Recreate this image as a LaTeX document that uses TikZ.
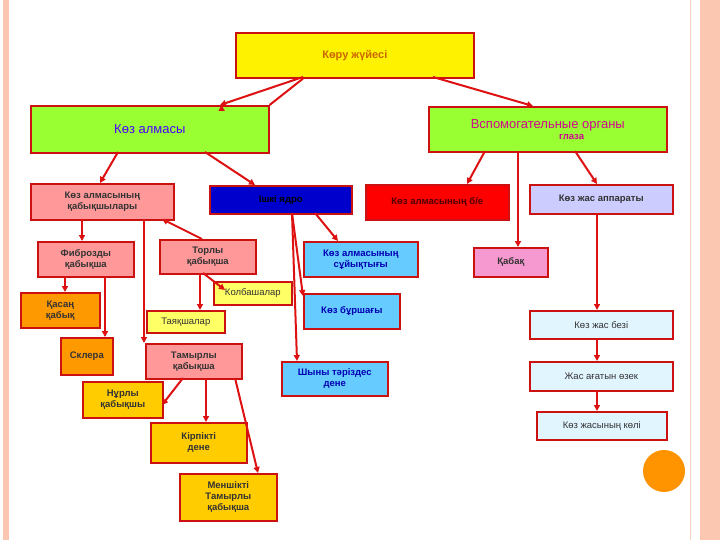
\documentclass[tikz,border=0pt]{standalone}
\usepackage{fontspec}
\setmainfont{Liberation Sans}
\usetikzlibrary{arrows.meta}
\definecolor{ar}{HTML}{DD1111}
\definecolor{bd}{HTML}{CC1111}
\definecolor{gr}{HTML}{99FF33}
\definecolor{pk}{HTML}{FF9999}
\definecolor{lb}{HTML}{66CCFF}
\definecolor{yl}{HTML}{FFFF66}
\definecolor{or}{HTML}{FF9900}
\definecolor{gd}{HTML}{FFCC00}
\definecolor{pe}{HTML}{FCC7B0}
\begin{document}
\begin{tikzpicture}[x=1pt,y=-1pt,
 bx/.style={draw=bd,line width=1.6pt,inner sep=0pt,align=center,font=\bfseries\fontsize{9.5}{11}\selectfont},
 ar/.style={draw=ar,line width=2pt,-{Triangle[length=6pt,width=6pt]}}]
\useasboundingbox (0,0) rectangle (720,540);
\fill[pe] (3,0) rectangle (9,540);
\fill[pe] (700,0) rectangle (720,540);
\draw[pe!80!white,line width=1pt] (690,0) -- (690,540);
\fill[orange!85!yellow] (664,471) circle (21);
\newcommand\bxn[6]{\node[bx,fill=#5,text=#6,minimum width=#3-#1,minimum height=#4-#2,anchor=north west] (n) at (#1,#2) {};}
\def\B#1#2#3#4#5#6#7#8{\node[bx,fill=#6,text=#7,minimum width={(#4-#2)*1pt},minimum height={(#5-#3)*1pt},anchor=north west] (#1) at (#2,#3) {#8};}
\B{top}{235}{32}{473}{77}{yellow}{orange!80!black}{\fontsize{11}{13}\selectfont Көру жүйесі}
\B{ka}{30}{105}{268}{152}{gr}{blue!70!magenta}{\fontsize{13}{15}\selectfont\mdseries Көз алмасы}
\B{vsp}{428}{106}{666}{151}{gr}{magenta!85!blue}{\fontsize{13}{14}\selectfont\mdseries Вспомогательные органы\\\hspace*{5em}глаза}
\B{kab}{30}{183}{173}{219}{pk}{black!80}{Көз алмасының\\қабықшылары}
\B{yad}{209}{185}{351}{213}{blue!80!black}{black}{Ішкі ядро}
\B{be}{365}{184}{508}{219}{red}{black!70!red}{Көз алмасының б/е}
\B{jas}{529}{184}{672}{213}{blue!20}{black!80}{Көз жас аппараты}
\B{fib}{37}{241}{133}{276}{pk}{black!80}{Фиброзды\\қабықша}
\B{tor}{159}{239}{255}{273}{pk}{black!80}{Торлы\\қабықша}
\B{suy}{303}{241}{417}{276}{lb}{blue!70!black}{Көз алмасының\\сұйықтығы}
\B{kabak}{473}{247}{547}{276}{magenta!40}{black!80}{Қабақ}
\B{kol}{213}{281}{291}{304}{yl}{black!80}{\mdseries Колбашалар}
\B{kas}{20}{292}{99}{327}{or}{black!80}{Қасаң\\қабық}
\B{bur}{303}{293}{399}{328}{lb}{blue!70!black}{Көз бұршағы}
\B{tay}{146}{310}{224}{332}{yl}{black!80}{\mdseries Таяқшалар}
\B{bez}{529}{310}{672}{338}{cyan!12}{black!80}{\mdseries Көз жас безі}
\B{skl}{60}{337}{112}{374}{or}{black!80}{Склера}
\B{tam}{145}{343}{241}{378}{pk}{black!80}{Тамырлы\\қабықша}
\B{shy}{281}{361}{387}{395}{lb}{blue!70!black}{Шыны тәріздес\\дене}
\B{ozek}{529}{361}{672}{390}{cyan!12}{black!80}{\mdseries Жас ағатын өзек}
\B{nur}{82}{381}{162}{417}{gd}{black!80}{Нұрлы\\қабықшы}
\B{kolі}{536}{411}{666}{439}{cyan!12}{black!80}{\mdseries Көз жасының көлі}
\B{kir}{150}{422}{246}{462}{gd}{black!80}{Кірпікті\\дене}
\B{men}{179}{473}{276}{520}{gd}{black!80}{Меншікті\\Тамырлы\\қабықша}
\draw[ar] (top.south west)++(68,0) -- (ka.north east)++(-48,0);
\draw[ar] (303,77) -- (220,105);
\draw[ar] (433,77) -- (533,106);
\draw[ar] (205,152) -- (255,185);
\draw[ar] (118,152) -- (100,183);
\draw[ar] (485,151) -- (467,184);
\draw[ar] (518,151) -- (518,247);
\draw[ar] (575,151) -- (597,184);
\draw[ar] (597,213) -- (597,310);
\draw[ar] (597,338) -- (597,361);
\draw[ar] (597,390) -- (597,411);
\draw[ar] (82,219) -- (82,241);
\draw[ar] (202,239) -- (162,219);
\draw[ar] (144,219) -- (144,343);
\draw[ar] (65,276) -- (65,292);
\draw[ar] (105,276) -- (105,337);
\draw[ar] (203,273) -- (225,290);
\draw[ar] (200,273) -- (200,310);
\draw[ar] (315,213) -- (338,241);
\draw[ar] (292,213) -- (303,296);
\draw[ar] (292,213) -- (297,361);
\draw[ar] (183,378) -- (162,405);
\draw[ar] (206,378) -- (206,422);
\draw[ar] (235,378) -- (258,473);
\end{tikzpicture}
\end{document}
